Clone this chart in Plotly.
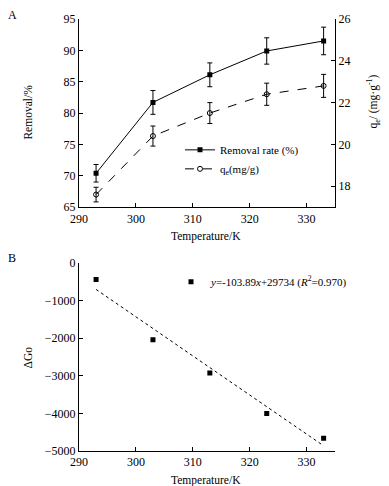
import plotly.graph_objects as go

# ---- data ----
temperature = [293, 303, 313, 323, 333]
removal = [70.4, 81.7, 86.1, 89.9, 91.5]
removal_err = [1.4, 1.9, 1.9, 2.1, 2.2]
qe = [17.6, 20.4, 21.5, 22.4, 22.8]
qe_err = [0.35, 0.48, 0.5, 0.53, 0.55]
delta_g = [-443, -2043, -2928, -4005, -4660]
fit_slope = -103.89
fit_intercept = 29734
fit_x = [293, 333]
fit_y = [fit_slope * t + fit_intercept for t in fit_x]

FONT = "Liberation Serif"
W, H = 389, 486
ML, MR, MT, MB = 79, 54, 17, 35
PW, PH = W - ML - MR, H - MT - MB


def px(x):
    return (x - ML) / PW


def py(y):
    return (H - MB - y) / PH


fig = go.Figure()

fig.add_trace(go.Scatter(
    x=temperature, y=removal, mode="lines+markers", name="Removal rate (%)",
    line=dict(color="black", width=1), marker=dict(symbol="square", size=5, color="black"),
    error_y=dict(type="data", array=removal_err, color="black", thickness=1, width=2.5),
    xaxis="x", yaxis="y", legend="legend"))
fig.add_trace(go.Scatter(
    x=temperature, y=qe, mode="lines+markers", name="q<sub>e</sub>(mg/g)",
    line=dict(color="black", width=1, dash="dash"),
    marker=dict(symbol="circle-open", size=5, color="black", line=dict(width=1)),
    error_y=dict(type="data", array=qe_err, color="black", thickness=1, width=2.5),
    xaxis="x", yaxis="y2", legend="legend"))

fig.add_trace(go.Scatter(
    x=temperature, y=delta_g, mode="markers",
    name="<i>y</i>=-103.89<i>x</i>+29734 (<i>R</i><sup>2</sup>=0.970)",
    marker=dict(symbol="square", size=5, color="black"),
    xaxis="x2", yaxis="y3", legend="legend2"))
fig.add_trace(go.Scatter(
    x=fit_x, y=fit_y, mode="lines", showlegend=False,
    line=dict(color="black", width=1, dash="dot"),
    xaxis="x2", yaxis="y3"))

axis_common = dict(showline=True, linecolor="black", linewidth=1, ticks="inside",
                   ticklen=4, tickcolor="black", showgrid=False, zeroline=False,
                   tickfont=dict(family=FONT, size=12, color="black"))

top_dom = [py(206), 1.0]
bot_dom = [0.0, py(262)]

fig.update_layout(
    width=W, height=H,
    margin=dict(l=ML, r=MR, t=MT, b=MB),
    paper_bgcolor="white", plot_bgcolor="white",
    font=dict(family=FONT, size=11, color="black"),
    xaxis=dict(**axis_common, domain=[0, 1], anchor="y", range=[290, 335],
               tickvals=[290, 300, 310, 320, 330]),
    yaxis=dict(**axis_common, domain=top_dom, anchor="x", range=[65, 95], dtick=5),
    yaxis2=dict(**axis_common, overlaying="y", side="right", anchor="x", range=[17, 26],
                tickvals=[18, 20, 22, 24, 26]),
    xaxis2=dict(**axis_common, domain=[0, 1], anchor="y3", range=[290, 335],
                tickvals=[290, 300, 310, 320, 330]),
    yaxis3=dict(**axis_common, domain=bot_dom, anchor="x2", range=[-5000, 0], dtick=1000),
    legend=dict(x=px(180), y=py(158), xanchor="left", yanchor="middle", bgcolor="rgba(0,0,0,0)",
                font=dict(family=FONT, size=11), tracegroupgap=0, itemwidth=30),
    legend2=dict(x=px(171), y=py(281), xanchor="left", yanchor="middle", bgcolor="rgba(0,0,0,0)",
                 font=dict(family=FONT, size=11), itemwidth=30),
)

labels = [
    ("A", 12, 13, 0, 12),
    ("B", 12, 257, 0, 12),
    ("Temperature/K", 206, 236, 0, 11.5),
    ("Temperature/K", 206, 481, 0, 11.5),
    ("Removal/%", 28, 111, -90, 11.5),
    ("ΔGo", 28, 357, -90, 11.5),
    ("q<sub>e</sub>/ (mg·g<sup>-1</sup>)", 373, 100, -90, 11.5),
]
for text, x, y, ang, size in labels:
    fig.add_annotation(text=text, xref="paper", yref="paper", x=px(x), y=py(y),
                       xanchor="center", yanchor="middle", textangle=ang, showarrow=False,
                       font=dict(family=FONT, size=size, color="black"))

fig.write_html("out.html", config={"displayModeBar": False},
               post_script="document.body.style.margin='0px';document.body.style.padding='0px';")
